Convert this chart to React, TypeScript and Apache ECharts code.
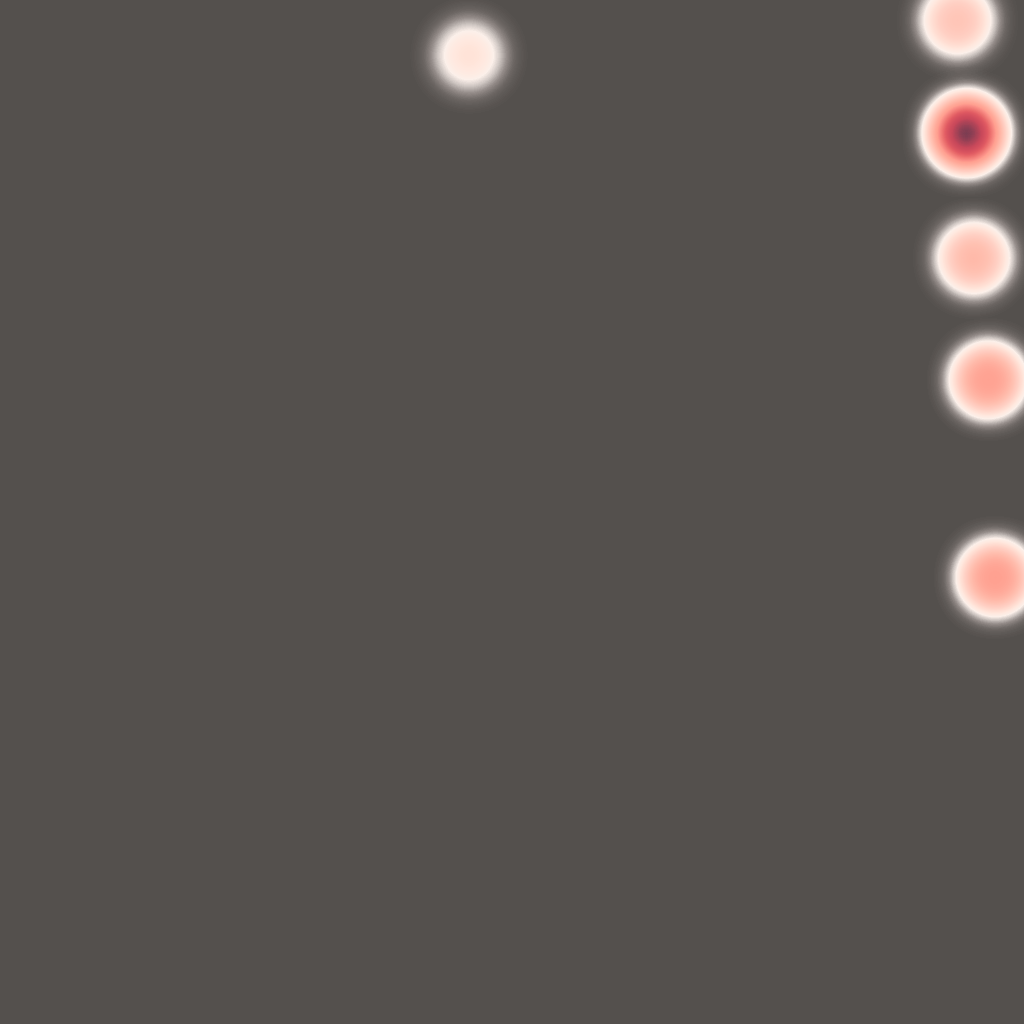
import React, { useEffect, useRef } from "react";
import * as echarts from "echarts";

const pointNames = ["A", "B", "C", "D", "E", "F"];
const pointLon = [45.8, 93.5, 94.4, 95.1, 96.5, 97.2];
const pointLat = [94.6, 98.0, 87.0, 74.8, 62.9, 43.6];
const pointValue = [28, 41, 100, 47, 60, 61];
const heatColors = [
  "#54504d", "#6c6663", "#958d8a", "#ccc4c0", "#fcf0ea", "#ffe8de", "#ffdcd0",
  "#ffd0c4", "#ffc6b8", "#ffbcac", "#ffb2a2", "#ffa898", "#ffa090", "#fa8e86",
  "#f27e78", "#ea6c6c", "#e05a62", "#d4505e", "#c8485a", "#a44256", "#6a3a50",
];

const blankMap = {
  type: "FeatureCollection",
  features: [
    {
      type: "Feature",
      properties: { name: "area" },
      geometry: {
        type: "Polygon",
        coordinates: [[[0, 0], [100, 0], [100, 100], [0, 100], [0, 0]]],
      },
    },
  ],
};

export default function App() {
  const ref = useRef<HTMLDivElement>(null);
  useEffect(() => {
    document.body.style.margin = "0";
    echarts.registerMap("blank", blankMap as any);
    const chart = echarts.init(ref.current!, undefined, { renderer: "svg" });
    const data = pointNames.map((n, i) => ({ name: n, value: [pointLon[i], pointLat[i], pointValue[i]] }));
    chart.setOption({
      animation: false,
      backgroundColor: "#54504d",
      geo: {
        map: "blank",
        roam: false,
        silent: true,
        aspectScale: 1,
        boundingCoords: [[0, 100], [100, 0]],
        left: 0,
        top: 0,
        width: 1024,
        height: 1024,
        label: { show: false },
        itemStyle: { areaColor: "transparent", borderColor: "transparent", borderWidth: 0 },
        emphasis: { disabled: true },
      },
      visualMap: {
        show: false,
        min: 0,
        max: 100,
        calculable: false,
        inRange: { color: heatColors },
      },
      series: [
        {
          type: "heatmap",
          coordinateSystem: "geo",
          pointSize: 36,
          blurSize: 28,
          minOpacity: 1,
          maxOpacity: 1,
          data,
        },
      ],
    });
    return () => chart.dispose();
  }, []);
  return <div ref={ref} style={{ position: "absolute", left: 0, top: 0, width: 1024, height: 1024 }} />;
}
